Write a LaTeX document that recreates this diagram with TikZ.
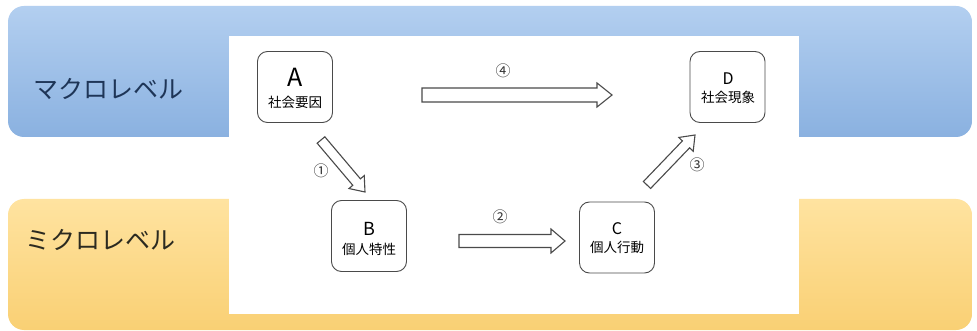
\documentclass[tikz,border=0pt]{standalone}
\usepackage{fontspec}
\setmainfont{Noto Sans CJK JP}
\usetikzlibrary{calc}
\definecolor{bandblueT}{HTML}{B3CFF0}
\definecolor{bandblueB}{HTML}{8AB1E0}
\definecolor{bandyelT}{HTML}{FFE3A0}
\definecolor{bandyelB}{HTML}{F9D074}
\definecolor{edge}{HTML}{4A4A4A}
\definecolor{macrotxt}{HTML}{1E3557}
\definecolor{microtxt}{HTML}{2B2A20}
\tikzset{
  box/.style={draw=edge, line width=0.9pt, rounded corners=10pt, fill=white,
    minimum width=75pt, minimum height=71pt, inner sep=0pt},
  arrowshape/.style={draw=edge, line width=1.1pt, fill=white, line join=miter},
  numlabel/.style={font=\fontsize{15}{16}\selectfont, text=black!80, inner sep=0pt},
  levellabel/.style={font=\fontsize{25}{27}\selectfont, anchor=west, inner sep=0pt},
}
% open block arrow: start, end, half shaft width, half head width, head length
\newcommand\openblockarrow[5]{%
  \coordinate (tmpH) at ($(#2)!#5!(#1)$);
  \path[arrowshape] ($(#1)!#3!90:(#2)$) -- ($(tmpH)!#3!90:(#2)$) -- ($(tmpH)!#4!90:(#2)$)
     -- (#2) -- ($(tmpH)!#4!-90:(#2)$) -- ($(tmpH)!#3!-90:(#2)$) -- ($(#1)!#3!-90:(#2)$) -- cycle;
}
\begin{document}
\begin{tikzpicture}[x=1pt,y=-1pt]
\useasboundingbox (0,0) rectangle (977,331);
\fill[white] (0,0) rectangle (977,331);
% bands
\path[top color=bandblueT, bottom color=bandblueB, rounded corners=16pt] (8,6) rectangle (972,137);
\path[top color=bandyelT, bottom color=bandyelB, rounded corners=16pt] (8,199) rectangle (972,330);
% white panel
\fill[white] (229,36) rectangle (799,314);
% level labels
\node[levellabel, text=macrotxt] (macro) at (33,89) {マクロレベル};
\node[levellabel, text=microtxt] (micro) at (25,240) {ミクロレベル};
% boxes
\node[box] (A) at (295,87) {};
\node[font=\fontsize{25}{27}\selectfont, inner sep=0pt] (Al) at (295,77) {A};
\node[font=\fontsize{13.5}{15}\selectfont, inner sep=0pt] (At) at (295,102) {社会要因};
\node[box] (D) at (727.5,87) {};
\node[font=\fontsize{16}{18}\selectfont, inner sep=0pt] (Dl) at (728,79) {D};
\node[font=\fontsize{13.5}{15}\selectfont, inner sep=0pt] (Dt) at (728,97) {社会現象};
\node[box] (B) at (369,236) {};
\node[font=\fontsize{18}{20}\selectfont, inner sep=0pt] (Bl) at (369,228.5) {B};
\node[font=\fontsize{13.5}{15}\selectfont, inner sep=0pt] (Bt) at (369,249) {個人特性};
\node[box] (C) at (617,237.5) {};
\node[font=\fontsize{16}{18}\selectfont, inner sep=0pt] (Cl) at (617,229) {C};
\node[font=\fontsize{13.5}{15}\selectfont, inner sep=0pt] (Ct) at (617,247.5) {個人行動};
% arrow end points
\coordinate (s1) at (321,140);
\coordinate (e1) at (365,192);
\coordinate (s2) at (459,241);
\coordinate (e2) at (565,241);
\coordinate (s3) at (647,185);
\coordinate (e3) at (695,135);
\coordinate (s4) at (422,95);
\coordinate (e4) at (612,95);
\openblockarrow{s1}{e1}{5pt}{10pt}{13pt}
\openblockarrow{s2}{e2}{6.5pt}{12pt}{14pt}
\openblockarrow{s3}{e3}{5pt}{10pt}{13pt}
\openblockarrow{s4}{e4}{7pt}{12pt}{15pt}
% labels
\node[numlabel] (n1) at (321,171) {①};
\node[numlabel] (n2) at (500,217) {②};
\node[numlabel] (n3) at (697,165) {③};
\node[numlabel] (n4) at (503,71) {④};
\end{tikzpicture}
\end{document}
